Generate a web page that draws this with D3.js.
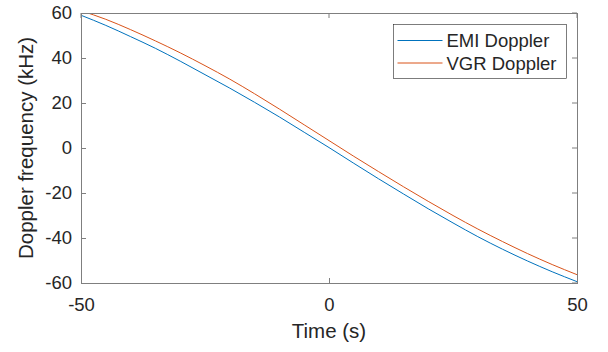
<!DOCTYPE html>
<html>
<head>
<meta charset="utf-8">
<title>Doppler</title>
<script src="https://cdn.jsdelivr.net/npm/d3@7"></script>
<style>
  body { margin: 0; background: #fff; }
  text { font-family: "Liberation Sans", Arial, sans-serif; fill: #262626; }
</style>
</head>
<body>
<div id="chart"></div>
<script>
// time axis samples (s)
const times = [-50,-45,-40,-35,-30,-25,-20,-15,-10,-5,0,5,10,15,20,25,30,35,40,45,50];
// Doppler frequency, kHz
const emi = [59.0,54.5,49.5,44.3,38.6,32.6,26.6,20.3,13.8,7.0,0.2,-6.8,-13.7,-20.4,-27.0,-33.3,-39.4,-45.0,-50.2,-55.0,-59.4];
const vgr = [61.0,57.2,52.6,47.6,42.3,36.6,30.6,24.1,17.3,10.3,3.3,-3.7,-10.5,-17.2,-23.7,-30.0,-36.0,-41.6,-46.9,-51.8,-56.3];
const seriesNames = ["EMI Doppler","VGR Doppler"];
const colors = ["#0072BD","#D95319"];
const xTicks = [-50,0,50];
const yTicks = [-60,-40,-20,0,20,40,60];

const W = 608, H = 352;
const m = {left: 81, right: 31, top: 13, bottom: 69};
const tickFont = 18.5, labelFont = 20.5;

const svg = d3.select("#chart").append("svg")
  .attr("width", W).attr("height", H);

const x = d3.scaleLinear().domain([-50,50]).range([m.left, W - m.right]);
const y = d3.scaleLinear().domain([-60,60]).range([H - m.bottom, m.top]);

svg.append("defs").append("clipPath").attr("id","clip")
  .append("rect")
  .attr("x", x(-50)).attr("y", y(60))
  .attr("width", x(50) - x(-50)).attr("height", y(-60) - y(60));

const line = d3.line()
  .x(d => x(d[0])).y(d => y(d[1]))
  .curve(d3.curveMonotoneX);

const data = [emi, vgr].map(vals => times.map((t,i) => [t, vals[i]]));

svg.append("g").attr("clip-path","url(#clip)")
  .selectAll("path").data(data).enter().append("path")
  .attr("d", line)
  .attr("fill","none")
  .attr("stroke",(d,i) => colors[i])
  .attr("stroke-width",1);

// axes, MATLAB style: inward ticks, box, plain hyphen minus
const axCol = "#7f7f7f";
const tk = 5;
const fmt = d => String(d);
const xAxis = g => g
  .attr("transform", `translate(0,${y(-60)})`)
  .call(d3.axisBottom(x).tickValues(xTicks).tickFormat(fmt).tickSizeInner(-tk).tickSizeOuter(0).tickPadding(15))
  .call(g => g.select(".domain").remove())
  .call(g => g.selectAll(".tick line").attr("stroke", axCol))
  .call(g => g.selectAll("text").attr("font-size", tickFont).attr("fill","#262626"));
const yAxis = g => g
  .attr("transform", `translate(${x(-50)},0)`)
  .call(d3.axisLeft(y).tickValues(yTicks).tickFormat(fmt).tickSizeInner(-tk).tickSizeOuter(0).tickPadding(9))
  .call(g => g.select(".domain").remove())
  .call(g => g.selectAll(".tick line").attr("stroke", axCol))
  .call(g => g.selectAll("text").attr("font-size", tickFont).attr("fill","#262626"));

svg.append("g").call(xAxis);
svg.append("g").call(yAxis);

// mirrored ticks on top and right
svg.append("g").selectAll("line").data(xTicks).enter().append("line")
  .attr("x1", d => x(d)).attr("x2", d => x(d))
  .attr("y1", y(60)).attr("y2", y(60) + tk)
  .attr("stroke", axCol);
svg.append("g").selectAll("line").data(yTicks).enter().append("line")
  .attr("x1", x(50)).attr("x2", x(50) - tk)
  .attr("y1", d => y(d)).attr("y2", d => y(d))
  .attr("stroke", axCol);

svg.append("rect")
  .attr("x", x(-50) + 0.5).attr("y", y(60) + 0.5)
  .attr("width", x(50) - x(-50)).attr("height", y(-60) - y(60))
  .attr("fill","none").attr("stroke", axCol).attr("stroke-width",1);

svg.append("text")
  .attr("x", (x(-50) + x(50)) / 2).attr("y", 338)
  .attr("text-anchor","middle").attr("font-size", labelFont)
  .text("Time (s)");

svg.append("text")
  .attr("transform", `translate(33,${(y(60) + y(-60)) / 2}) rotate(-90)`)
  .attr("text-anchor","middle").attr("font-size", labelFont)
  .text("Doppler frequency (kHz)");

// legend
const lg = svg.append("g").attr("transform","translate(393.5,24.5)");
lg.append("rect").attr("width",173).attr("height",54)
  .attr("fill","#fff").attr("stroke","#262626").attr("stroke-width",0.6);
const items = lg.selectAll("g.item").data(seriesNames).enter().append("g")
  .attr("class","item")
  .attr("transform",(d,i) => `translate(0,${16 + i * 22.5})`);
items.append("line").attr("x1",4).attr("x2",49).attr("y1",0).attr("y2",0)
  .attr("stroke",(d,i) => colors[i]).attr("stroke-width",1);
items.append("text").attr("x",53).attr("y",6.5).attr("font-size",tickFont).text(d => d);
</script>
</body>
</html>
